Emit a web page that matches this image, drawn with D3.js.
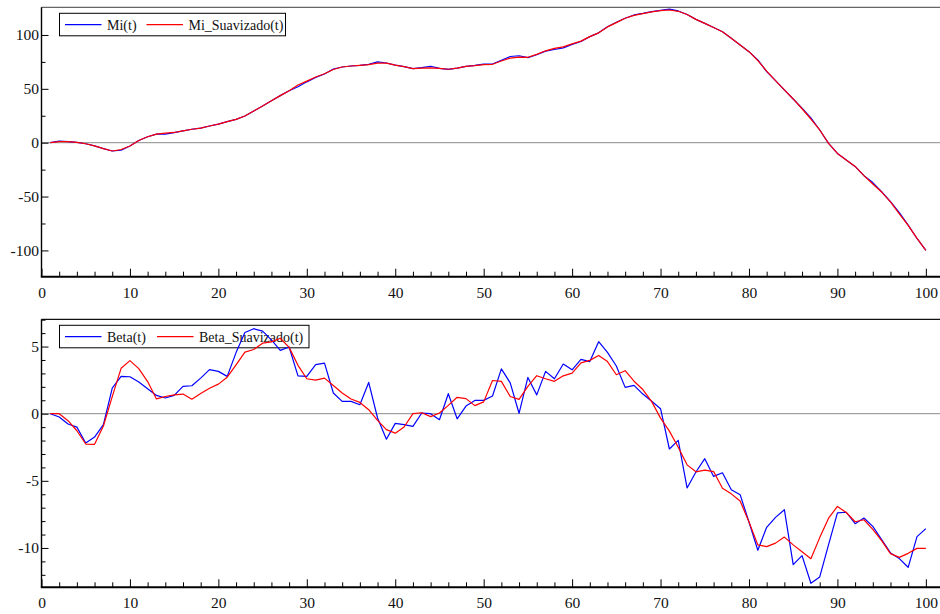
<!DOCTYPE html>
<html>
<head>
<meta charset="utf-8">
<script src="https://cdn.jsdelivr.net/npm/d3@7"></script>
<style>
  html, body { margin: 0; padding: 0; background: #fff; }
  svg { display: block; }
  text { font-family: "Liberation Serif", "Times New Roman", serif; fill: #111; }
</style>
</head>
<body>
<svg id="chart" width="940" height="614"></svg>
<script>
// Time steps t = 1..100
const steps = d3.range(1, 101);

const mi = [
  0, 1.5, 1, 0.3, -1, -3, -5.5, -7.7, -7, -3,
  2, 5.5, 8, 8, 9.3, 11, 12.5, 13.5, 15.5, 17.3,
  19.5, 21.7, 24.8, 29.4, 34, 39, 43.7, 48.3, 52, 56.5,
  60.5, 63.8, 68.4, 70.3, 71.2, 71.8, 72.8, 75, 74, 72,
  70.6, 68.7, 69.7, 71, 69, 68, 69.3, 70.9, 71.8, 73,
  73, 76.5, 80, 80.7, 79, 81.7, 85, 86.5, 88, 91.3,
  94, 98.5, 102, 107.7, 111.8, 115.5, 118.6, 120, 121.7, 122.9,
  124, 122.3, 119, 114.5, 110.8, 107, 103, 97, 90.7, 84.5,
  76.8, 66, 57.6, 49, 40.6, 32, 23, 11.8, -0.6, -10,
  -16, -22, -30.6, -37, -45.5, -54.8, -65, -76.5, -88.9, -100
];

const miSuavizado = [
  0, 1, 1, 0.3, -1, -3, -5.5, -7.7, -6.3, -3,
  2, 5.5, 8, 8.8, 9.5, 11, 12.5, 13.5, 15.5, 17.3,
  19.5, 21.7, 24.8, 29.4, 34, 39, 43.7, 48.3, 53.5, 57.2,
  61, 64, 68, 70.3, 71.2, 71.8, 72.5, 73.8, 73.8, 72,
  70.6, 68.7, 69.3, 69.5, 69, 68.2, 69.3, 70.9, 71.5, 72.5,
  72.8, 75.8, 78.5, 79.5, 79.3, 82, 85.3, 87.5, 89, 91.8,
  94.3, 98.5, 102, 107.5, 111.5, 115.5, 118.2, 119.8, 121.5, 122.6,
  123.2, 122, 119, 114.5, 110.8, 107, 103, 97, 90.7, 84.5,
  76.3, 66.5, 57.6, 49, 40.6, 31.5, 22, 11.8, -0.6, -10,
  -16, -22, -30.6, -38.3, -45.8, -55, -66, -76.8, -88.9, -100
];

const beta = [
  0, -0.25, -0.77, -1.0, -2.18, -1.74, -0.82, 1.91, 2.78, 2.75,
  2.36, 1.86, 1.36, 1.17, 1.36, 2.03, 2.08, 2.65, 3.28, 3.15,
  2.78, 4.55, 6.05, 6.33, 6.15, 5.5, 4.72, 4.97, 2.82, 2.78,
  3.65, 3.77, 1.54, 0.92, 0.92, 0.67, 2.33, -0.32, -1.9, -0.72,
  -0.82, -0.94, 0.05, 0, -0.45, 1.49, -0.38, 0.57, 0.99, 0.99,
  1.32, 3.34, 2.3, 0.03, 2.7, 1.4, 3.15, 2.6, 3.7, 3.27,
  4.04, 3.88, 5.36, 4.57, 3.55, 1.96, 2.11, 1.46, 0.92, 0.37,
  -2.63, -1.99, -5.53, -4.34, -3.35, -4.67, -4.4, -5.66, -6.03, -8.07,
  -10.17, -8.46, -7.72, -7.15, -11.24, -10.57, -12.63, -12.16, -9.75, -7.39,
  -7.34, -8.19, -7.77, -8.39, -9.38, -10.37, -10.79, -11.44, -9.16, -8.56
];

const betaSuavizado = [
  0, 0, -0.52, -1.27, -2.26, -2.28, -0.92, 1.27, 3.38, 3.95,
  3.36, 2.39, 1.1, 1.28, 1.4, 1.46, 1.08, 1.5, 1.9, 2.2,
  2.72, 3.63, 4.59, 4.78, 5.25, 5.35, 5.62, 4.94, 3.6, 2.6,
  2.5, 2.65, 2.1, 1.54, 1.09, 0.84, 0.3, -0.5, -1.19, -1.45,
  -0.99, 0, 0.07, -0.22, 0.05, 0.62, 1.22, 1.12, 0.6, 0.88,
  2.47, 2.41, 1.28, 1.07, 2.04, 2.83, 2.6, 2.41, 2.82, 3.02,
  3.78, 3.97, 4.34, 3.88, 2.9, 3.2, 2.42, 1.8, 0.9, -0.33,
  -1.3, -2.5, -3.81, -4.33, -4.2, -4.31, -5.55, -5.97, -6.5, -8.06,
  -9.77, -9.9, -9.64, -9.19, -9.77, -10.28, -10.8, -9.23, -7.78, -6.91,
  -7.36, -8.05, -7.9, -8.62, -9.45, -10.42, -10.7, -10.4, -10.03, -10.03
];

const xTicks = [0, 10, 20, 30, 40, 50, 60, 70, 80, 90, 100];
const miTicks = [-100, -50, 0, 50, 100];
const betaTicks = [-10, -5, 0, 5];

const BLUE = "#0000ff";
const RED = "#ff0000";

const svg = d3.select("#chart");
const W = 940;
const left = 41.5;
const plain = d => String(d);   // hyphen-minus labels

const x = d3.scaleLinear().domain([0, 101.6]).range([left, W]);

function panel(cfg) {
  const y = d3.scaleLinear().domain(cfg.yDomain).range([cfg.bottom, cfg.top]);
  const g = svg.append("g");

  // top frame line
  g.append("line")
    .attr("x1", left).attr("x2", W)
    .attr("y1", cfg.top).attr("y2", cfg.top)
    .attr("stroke", cfg.frameColor).attr("stroke-width", 1.2);

  // zero reference line
  g.append("line")
    .attr("x1", left).attr("x2", W)
    .attr("y1", y(0)).attr("y2", y(0))
    .attr("stroke", "#8a8a8a").attr("stroke-width", 1);

  // legend (drawn beneath the series)
  const lg = g.append("g");
  lg.append("rect")
    .attr("x", 59.5).attr("y", cfg.top + 6)
    .attr("width", cfg.legendW).attr("height", 22.5)
    .attr("fill", "#fff").attr("stroke", "#000").attr("stroke-width", 1);
  const ly = cfg.top + 17.3;
  cfg.legend.forEach(it => {
    lg.append("line")
      .attr("x1", it.x).attr("x2", it.x + 36.5)
      .attr("y1", ly).attr("y2", ly)
      .attr("stroke", it.color).attr("stroke-width", 1.2);
    lg.append("text")
      .attr("x", it.x + 42).attr("y", ly + 5)
      .attr("font-size", 14)
      .text(it.label);
  });

  // series
  const line = d3.line().x((d, i) => x(steps[i])).y(d => y(d));
  cfg.series.forEach(s => {
    g.append("path")
      .datum(s.values)
      .attr("d", line)
      .attr("fill", "none")
      .attr("stroke", s.color)
      .attr("stroke-width", 1.2)
      .attr("stroke-linejoin", "round");
  });

  // y axis: minor and major ticks pointing inward
  const yMinor = d3.axisRight(y).tickValues(cfg.yMinor).tickSize(4).tickFormat("");
  g.append("g").attr("transform", `translate(${left},0)`).call(yMinor)
    .call(a => a.select(".domain").remove())
    .selectAll("line").attr("stroke", "#000");
  const yMajor = d3.axisLeft(y).tickValues(cfg.yTicks).tickFormat(plain)
    .tickSizeInner(-7).tickSizeOuter(0).tickPadding(2.5);
  const ya = g.append("g").attr("transform", `translate(${left},0)`).call(yMajor);
  ya.select(".domain").remove();
  ya.selectAll("line").attr("stroke", "#000");
  ya.selectAll("text")
    .attr("font-family", "Liberation Serif, Times New Roman, serif")
    .attr("font-size", 15.5).attr("fill", "#111");
  g.append("line")
    .attr("x1", left).attr("x2", left)
    .attr("y1", cfg.top).attr("y2", cfg.bottom)
    .attr("stroke", "#000").attr("stroke-width", 1.4);

  // x axis: inward ticks, labels below
  const xMinor = d3.axisTop(x).tickValues(d3.range(2, 101, 2).filter(v => v % 10 !== 0)).tickSize(5).tickFormat("");
  g.append("g").attr("transform", `translate(0,${cfg.bottom})`).call(xMinor)
    .call(a => a.select(".domain").remove())
    .selectAll("line").attr("stroke", "#000");
  const xMajor = d3.axisBottom(x).tickValues(xTicks).tickFormat(plain)
    .tickSizeInner(-8).tickSizeOuter(0).tickPadding(10);
  const xa = g.append("g").attr("transform", `translate(0,${cfg.bottom})`).call(xMajor);
  xa.select(".domain").remove();
  xa.selectAll("line").attr("stroke", "#000");
  xa.selectAll("text")
    .attr("font-family", "Liberation Serif, Times New Roman, serif")
    .attr("font-size", 15.5).attr("fill", "#111");
  g.append("line")
    .attr("x1", left - 0.7).attr("x2", W)
    .attr("y1", cfg.bottom).attr("y2", cfg.bottom)
    .attr("stroke", "#000").attr("stroke-width", 2);
}

panel({
  top: 7.3, bottom: 276.7,
  yDomain: [-124.4, 125.7],
  yTicks: miTicks,
  yMinor: [-75, -25, 25, 75],
  frameColor: "#666",
  legendW: 226,
  legend: [
    { x: 65, color: BLUE, label: "Mi(t)" },
    { x: 146.5, color: RED, label: "Mi_Suavizado(t)" }
  ],
  series: [
    { values: mi, color: BLUE },
    { values: miSuavizado, color: RED }
  ]
});

panel({
  top: 319.3, bottom: 587.3,
  yDomain: [-12.93, 7.03],
  yTicks: betaTicks,
  yMinor: [-12, -11, -9, -8, -7, -6, -4, -3, -2, -1, 1, 2, 3, 4, 6, 7],
  frameColor: "#111",
  legendW: 249.5,
  legend: [
    { x: 65, color: BLUE, label: "Beta(t)" },
    { x: 157, color: RED, label: "Beta_Suavizado(t)" }
  ],
  series: [
    { values: beta, color: BLUE },
    { values: betaSuavizado, color: RED }
  ]
});
</script>
</body>
</html>
